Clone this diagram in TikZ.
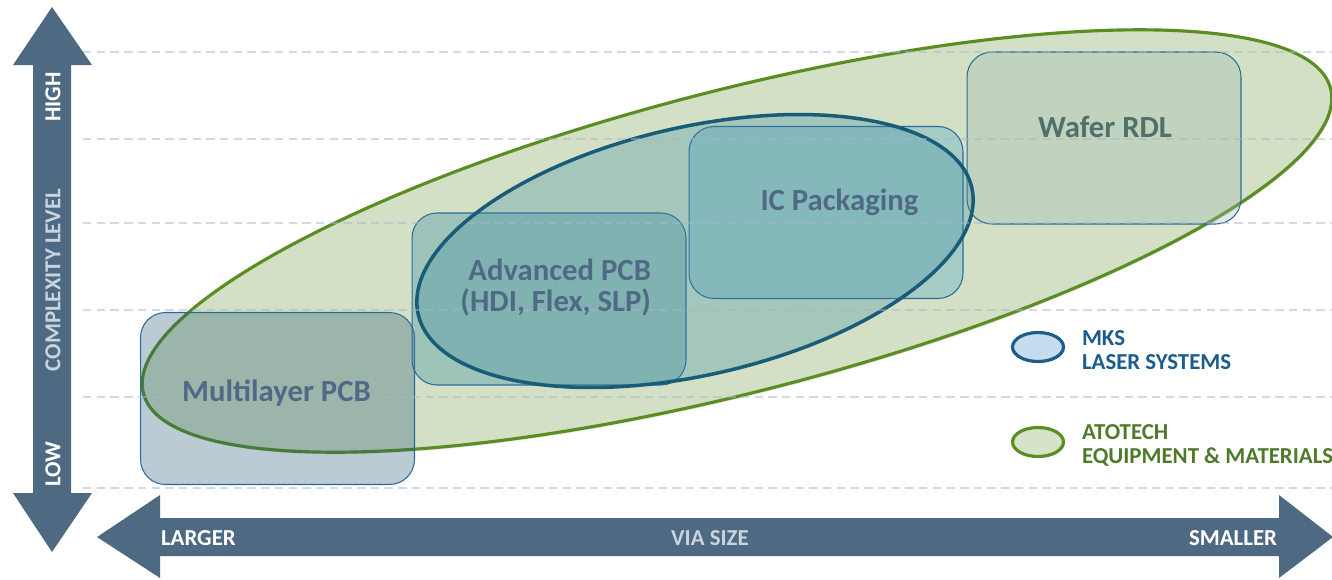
\documentclass[tikz,border=0pt]{standalone}
\usepackage{fontspec}
\setmainfont{Carlito}
\usetikzlibrary{shapes.geometric,shadows}

\definecolor{axisblue}{RGB}{78,106,131}
\definecolor{axislight}{RGB}{200,212,222}
\definecolor{gridblue}{RGB}{163,184,203}
\definecolor{atofill}{RGB}{211,224,197}
\definecolor{atoline}{RGB}{90,142,34}
\definecolor{atotext}{RGB}{78,122,42}
\definecolor{atolegend}{RGB}{213,227,200}
\definecolor{mksfill}{RGB}{61,141,164}
\definecolor{mksline}{RGB}{24,92,120}
\definecolor{mkstext}{RGB}{28,92,140}
\definecolor{mkslegend}{RGB}{197,221,238}
\definecolor{mkslegendline}{RGB}{31,92,138}
\definecolor{boxline}{RGB}{42,106,154}
\definecolor{slatebox}{RGB}{28,82,108}
\definecolor{cyanbox}{RGB}{61,158,200}
\definecolor{sagebox}{RGB}{154,184,174}
\definecolor{labeltext}{RGB}{80,106,134}
\definecolor{wafertext}{RGB}{80,112,105}

\begin{document}
\begin{tikzpicture}[x=0.02cm, y=-0.02cm,
    every node/.style={inner sep=0pt, outer sep=0pt},
    stage/.style={rectangle, rounded corners=0.5cm, draw=boxline,
        line width=0.6pt, minimum width=5.48cm, minimum height=3.44cm},
    stagetext/.style={font=\fontsize{17.5}{17.6}\selectfont\bfseries,
        text=labeltext, align=center},
    region/.style={ellipse, line width=1.8pt},
    axislbl/.style={font=\fontsize{13}{14}\selectfont\bfseries, text=white},
    axisname/.style={axislbl, text=axislight},
    legendmark/.style={ellipse, minimum width=1.02cm, minimum height=0.58cm,
        line width=1.8pt, drop shadow={opacity=0.3, shadow xshift=0.6pt,
        shadow yshift=-0.8pt}},
    legendtext/.style={font=\fontsize{13}{13.6}\selectfont\bfseries,
        align=left, anchor=base west},
    gridline/.style={draw=gridblue, line width=1.1pt,
        dash pattern=on 4.8pt off 3pt, opacity=0.5}
]
\useasboundingbox (0,0) rectangle (1332,579);

% ATOTECH region
\node[region, minimum width=24.52cm, minimum height=6.04cm, rotate=14.4,
    fill=atofill, draw=atoline,
    drop shadow={opacity=0.2, shadow xshift=0.8pt, shadow yshift=-1.2pt}]
    (atotech) at (737,241) {};

% application boxes
\node[stage, fill=slatebox, fill opacity=0.3] (mlpcb)  at (277.5,398.5) {};
\node[stage, fill=mksfill,  fill opacity=0.35] (advpcb) at (549,299) {};
\node[stage, fill=cyanbox,  fill opacity=0.3] (icpkg)  at (826,212.5) {};
\node[stage, fill=sagebox,  fill opacity=0.3] (wafer)  at (1104,138) {};

% MKS region
\node[region, minimum width=11.36cm, minimum height=4.96cm, rotate=12.9,
    fill=mksfill, fill opacity=0.3, draw=mksline, line width=2pt]
    (mks) at (695,251) {};

% grid
\foreach \gy in {52,139,223,310,397,488}
    \draw[gridline] (83,\gy) -- (1332,\gy);

% box labels
\node[stagetext, anchor=base] (mltxt) at (276.5,401) {Multilayer PCB};
\node[stagetext, align=right, anchor=base east] (advtxt) at (651,311)
    {Advanced PCB\\(HDI, Flex, SLP)};
\node[stagetext, anchor=base] (ictxt) at (839.5,210) {IC Packaging};
\node[stagetext, anchor=base, text=wafertext] (wftxt) at (1105,137) {Wafer RDL};

% legend
\node[legendmark, fill=mkslegend, draw=mkslegendline] (mkskey) at (1038,347) {};
\node[legendtext, text=mkstext] (mkslbl) at (1082,369) {MKS\\LASER SYSTEMS};
\node[legendmark, fill=atolegend, draw=atoline] (atokey) at (1038,442) {};
\node[legendtext, text=atotext] (atolbl) at (1082,463)
    {ATOTECH\\EQUIPMENT \& MATERIALS};

% complexity axis
\fill[axisblue] (52,7) -- (92,65) -- (71,65) -- (71,493) -- (92,493)
    -- (52,552) -- (13,493) -- (33,493) -- (33,65) -- (13,65) -- cycle;
\node[axislbl, rotate=90] (high) at (53,97) {HIGH};
\node[axisname, rotate=90] (cplx) at (53,280) {COMPLEXITY LEVEL};
\node[axislbl, rotate=90] (low) at (53,464) {LOW};

% via size axis
\fill[axisblue] (97,537) -- (160,495) -- (160,518) -- (1279,518)
    -- (1279,495) -- (1333,537) -- (1279,578) -- (1279,556)
    -- (160,556) -- (160,578) -- cycle;
\node[axislbl, anchor=base west] (larger) at (161,545) {LARGER};
\node[axisname, anchor=base] (via) at (710,545) {VIA SIZE};
\node[axislbl, anchor=base east] (smaller) at (1277,545) {SMALLER};
\end{tikzpicture}
\end{document}
